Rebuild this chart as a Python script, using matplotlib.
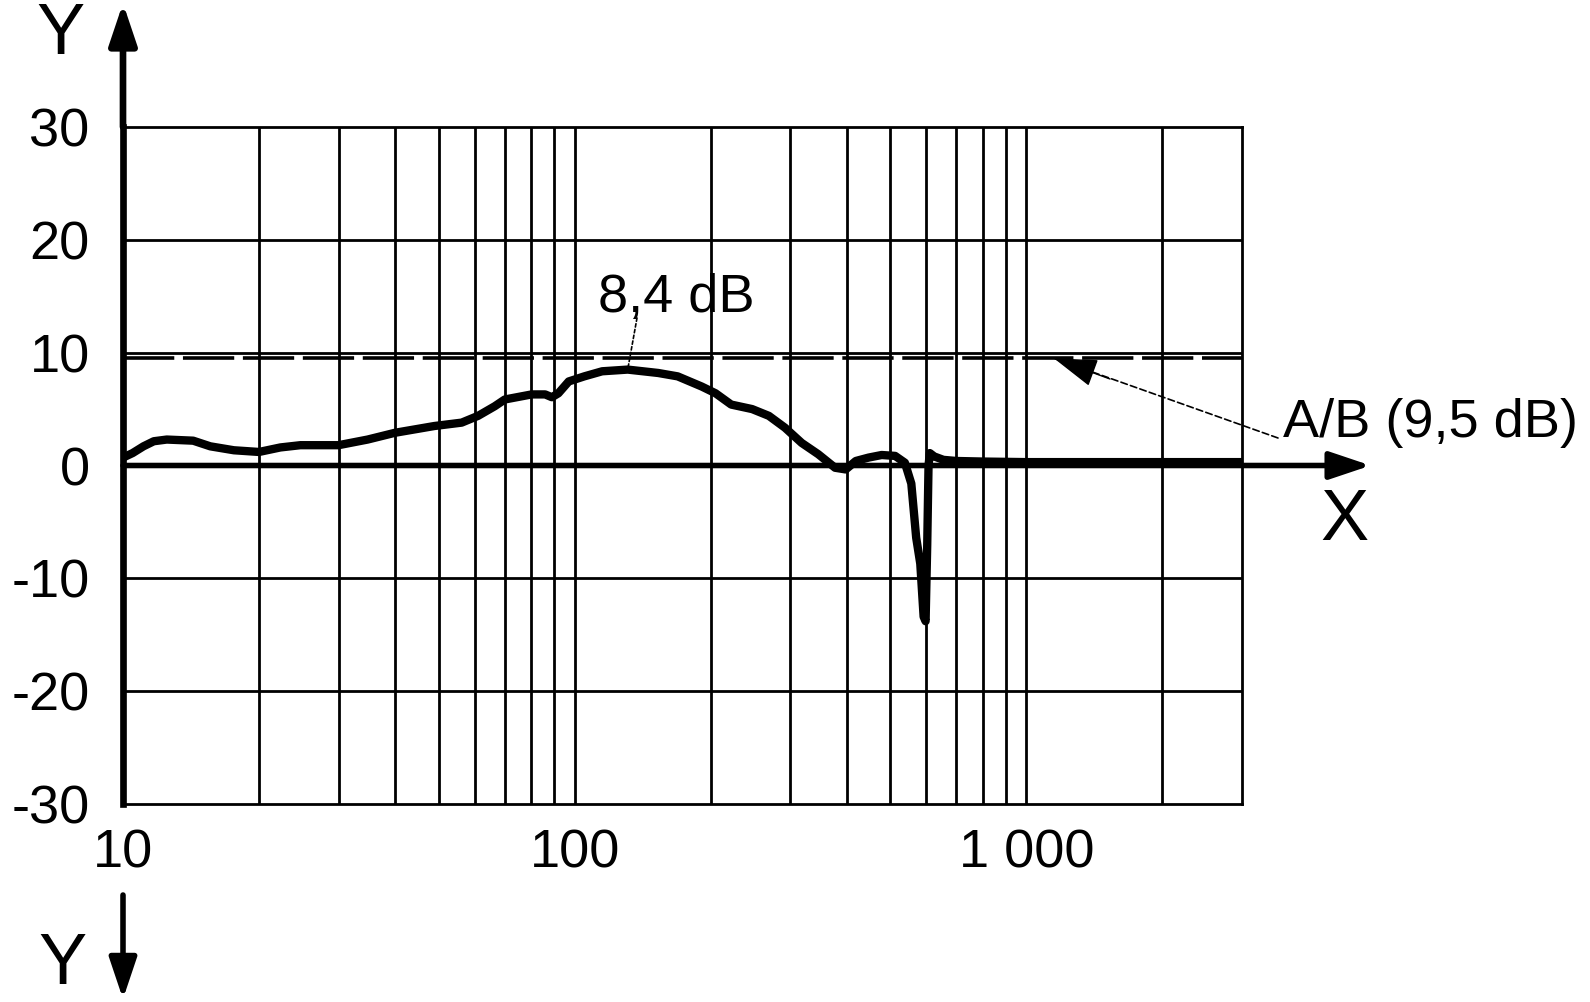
import numpy as np
import matplotlib.pyplot as plt
from matplotlib.patches import FancyArrowPatch
from matplotlib.ticker import FixedLocator, NullLocator

plt.rcParams.update({
    "font.family": ["Liberation Sans", "DejaVu Sans"],
    "font.size": 39,
    "axes.unicode_minus": False,
})

# frequency response
freq = [10, 10.5, 11.1, 11.7, 12.5, 14.3, 15.6, 17.6, 20, 22.3, 24.7, 30, 34.8,
        40, 48.9, 56.2, 61.1, 66.5, 70, 80.3, 86, 89, 92, 97, 105, 115, 131,
        153, 169, 191, 205, 222, 247, 269, 292, 318, 346, 377, 398, 419, 447,
        478, 512, 538, 556, 570, 582, 592, 598, 603, 607, 611, 625, 655, 700,
        800, 1000, 1500, 2000, 3000]
level = [0.7, 1.1, 1.7, 2.15, 2.3, 2.2, 1.7, 1.35, 1.2, 1.6, 1.8, 1.8, 2.3,
         2.9, 3.5, 3.8, 4.4, 5.25, 5.85, 6.3, 6.3, 6.05, 6.4, 7.45, 7.9, 8.35, 8.5,
         8.2, 7.9, 7.0, 6.4, 5.4, 5.0, 4.4, 3.35, 2.0, 1.0, -0.2, -0.35, 0.4, 0.7,
         0.93, 0.85, 0.25, -1.6, -6.4, -8.7, -13.4, -13.8, -7.0, 0.0, 1.1, 0.8, 0.5, 0.4,
         0.35, 0.3, 0.3, 0.3, 0.3]

ab_level = 9.5
peak_f, peak_db = 131, 8.5
ab_arrow_f = 1150

x_minor = [20, 30, 40, 50, 60, 70, 80, 90, 200, 300, 400, 500, 600, 700, 800, 900, 2000]
x_ticks = [10, 100, 1000]
x_labels = ["10", "100", "1 000"]
y_ticks = [-30, -20, -10, 0, 10, 20, 30]

W, H = 1590, 1002
fig = plt.figure(figsize=(W / 100, H / 100), dpi=100)
L, R, T, B = 123, 1242, 127, 804
ax = fig.add_axes([L / W, 1 - B / H, (R - L) / W, (B - T) / H])

ax.set_xscale("log")
ax.set_xlim(10, 3000)
ax.set_ylim(-30, 30)

# grid
for f in x_minor + [100, 1000]:
    ax.axvline(f, color="black", lw=2, zorder=1)
for y in [-20, -10, 10, 20]:
    ax.axhline(y, color="black", lw=2, zorder=1)

for s in ["top", "right", "bottom"]:
    ax.spines[s].set_linewidth(2)
ax.spines["left"].set_linewidth(4.8)

ax.xaxis.set_major_locator(FixedLocator(x_ticks))
ax.xaxis.set_minor_locator(NullLocator())
ax.set_xticklabels(x_labels)
ax.set_yticks(y_ticks)
ax.tick_params(axis="both", length=0)
ax.tick_params(axis="x", pad=18)
ax.tick_params(axis="y", pad=24)

# dashed reference level
ax.plot([10, 3000], [ab_level, ab_level], color="black", lw=2.6,
        linestyle=(0, (14.2, 2.4)), zorder=2)

# curve
ax.plot(freq, level, color="black", lw=6, solid_joinstyle="round",
        solid_capstyle="round", zorder=3)

head = "-|>,head_length=1.25,head_width=0.42"

# X axis through 0 with arrow
ax.annotate("", xy=(1.115, 0), xytext=(0, 0),
            xycoords=("axes fraction", "data"), textcoords=("axes fraction", "data"),
            arrowprops=dict(arrowstyle=head, mutation_scale=20,
                            lw=4, color="black", shrinkA=0, shrinkB=0),
            annotation_clip=False, zorder=4)

# Y axis arrow up
ax.annotate("", xy=(0, 1.183), xytext=(0, 1.0), xycoords="axes fraction",
            arrowprops=dict(arrowstyle=head, mutation_scale=20,
                            lw=4.8, color="black", shrinkA=0, shrinkB=0),
            annotation_clip=False)

# Y arrow at bottom pointing down
fig.patches.append(FancyArrowPatch(
    (123, H - 895), (123, H - 999), transform=None,
    arrowstyle=head, mutation_scale=20,
    lw=4, color="black", shrinkA=0, shrinkB=0))

fig.text(61 / W, 1 - 35 / H, "Y", fontsize=52, ha="center", va="center")
fig.text(63 / W, 1 - 966 / H, "Y", fontsize=52, ha="center", va="center")
fig.text(1344 / W, 1 - 522 / H, "X", fontsize=52, ha="center", va="center")

# 8,4 dB label
fig.text(676 / W, 1 - 298 / H, "8,4 dB", ha="center", va="center")
ax.annotate("", xy=(peak_f, peak_db), xytext=(637, H - 318), textcoords="figure pixels",
            arrowprops=dict(arrowstyle="-", lw=1.2, linestyle=(0, (2, 1.5)),
                            color="black", shrinkA=0, shrinkB=0))

# A/B label: dashed leader plus solid arrow head
fig.text(1283 / W, 1 - 423 / H, "A/B (9,5 dB)", ha="left", va="center")
ax.annotate("", xy=(ab_arrow_f, ab_level), xytext=(1278, H - 438), textcoords="figure pixels",
            arrowprops=dict(arrowstyle="-", lw=1.2, linestyle=(0, (4, 2)),
                            color="black", shrinkA=0, shrinkB=0),
            annotation_clip=False)
ax.annotate("", xy=(ab_arrow_f, ab_level), xytext=(1110, H - 379), textcoords="figure pixels",
            arrowprops=dict(arrowstyle="-|>,head_length=1.4,head_width=0.45",
                            mutation_scale=20, lw=1, color="black",
                            shrinkA=0, shrinkB=0),
            annotation_clip=False)

fig.savefig("out.png", dpi=100)
